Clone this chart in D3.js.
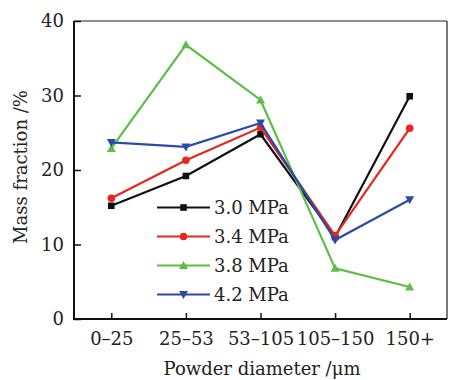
<!DOCTYPE html>
<html><head><meta charset="utf-8">
<script src="https://cdn.jsdelivr.net/npm/d3@7"></script>
<style>body{margin:0;background:#fff}svg{display:block}text{font-family:"DejaVu Serif","Liberation Serif",serif;fill:#222}</style>
</head><body>
<svg id="c" width="449" height="380"></svg>
<script>
const categories = ["0\u201325","25\u201353","53\u2013105","105\u2013150","150+"];
const seriesNames = ["3.0 MPa","3.4 MPa","3.8 MPa","4.2 MPa"];
const s30 = [15.2,19.2,24.8,11.0,29.9];
const s34 = [16.2,21.3,25.7,11.2,25.6];
const s38 = [22.9,36.8,29.4,6.8,4.3];
const s42 = [23.7,23.1,26.3,10.6,16.0];
const yTicks = [0,10,20,30,40];
const colors = ["#111111","#e8251e","#5cbf45","#2a4aa8"];
const markers = ["square","circle","triUp","triDown"];
const allSeries = [s30,s34,s38,s42];

const FONT = "'DejaVu Serif','Liberation Serif',serif";
const FS = 18;
const svg = d3.select("#c");
const L=74,R=447,T=21,B=319;
const x = d3.scalePoint().domain(categories).range([L,R]).padding(0.5);
const y = d3.scaleLinear().domain([0,40]).range([B,T]);

// frame
svg.append("line").attr("x1",L).attr("x2",R).attr("y1",T).attr("y2",T).attr("stroke","#222").attr("stroke-width",1.2);
svg.append("line").attr("x1",R).attr("x2",R).attr("y1",T).attr("y2",B).attr("stroke","#222").attr("stroke-width",1.2);

const yAxis = svg.append("g").attr("transform",`translate(${L},0)`)
  .call(d3.axisLeft(y).tickValues(yTicks).tickSizeInner(-7).tickSizeOuter(0).tickPadding(10));
const xAxis = svg.append("g").attr("transform",`translate(0,${B})`)
  .call(d3.axisBottom(x).tickSizeInner(-6).tickSizeOuter(0).tickPadding(13));
[yAxis,xAxis].forEach(g=>{
  g.select(".domain").attr("stroke","#111").attr("stroke-width",2);
  g.selectAll(".tick line").attr("stroke","#111").attr("stroke-width",1.5);
  g.selectAll("text").attr("font-size",FS).attr("fill","#222").style("font-family",FONT);
});
xAxis.select(".domain").attr("d",`M${L-1},0H${R}`);
yAxis.select(".domain").attr("d",`M0,${B+1}V${T}`);

function drawMarker(g,type,cx,cy,color){
  if(type==="square") g.append("rect").attr("x",cx-3.3).attr("y",cy-3.3).attr("width",6.6).attr("height",6.6).attr("fill",color);
  else if(type==="circle") g.append("circle").attr("cx",cx).attr("cy",cy).attr("r",3.8).attr("fill",color);
  else if(type==="triUp") g.append("path").attr("d",`M${cx},${cy-4.5}L${cx+4.5},${cy+3.5}L${cx-4.5},${cy+3.5}Z`).attr("fill",color);
  else g.append("path").attr("d",`M${cx},${cy+4.5}L${cx+4.5},${cy-3.5}L${cx-4.5},${cy-3.5}Z`).attr("fill",color);
}

const line = d3.line().x((d,i)=>x(categories[i])).y(d=>y(d));
allSeries.forEach((s,k)=>{
  const g = svg.append("g");
  g.append("path").datum(s).attr("d",line).attr("fill","none").attr("stroke",colors[k]).attr("stroke-width",2.2);
  s.forEach((v,i)=>drawMarker(g,markers[k],x(categories[i]),y(v),colors[k]));
});

// legend
const lg = svg.append("g");
seriesNames.forEach((n,k)=>{
  const yy = 207.5 + k*29;
  lg.append("line").attr("x1",157).attr("x2",210).attr("y1",yy).attr("y2",yy).attr("stroke",colors[k]).attr("stroke-width",2.2);
  drawMarker(lg,markers[k],183.5,yy,colors[k]);
  lg.append("text").attr("x",214).attr("y",yy).attr("dy","0.35em").attr("font-size",FS).style("font-family",FONT).text(n);
});

// axis titles
svg.append("text").attr("transform","translate(21,167) rotate(-90)").attr("text-anchor","middle").attr("dy","0.35em").attr("font-size",FS).style("font-family",FONT).text("Mass fraction /%");
svg.append("text").attr("x",262).attr("y",375).attr("text-anchor","middle").attr("font-size",FS).style("font-family",FONT).text("Powder diameter /\u03bcm");
</script>
</body></html>
